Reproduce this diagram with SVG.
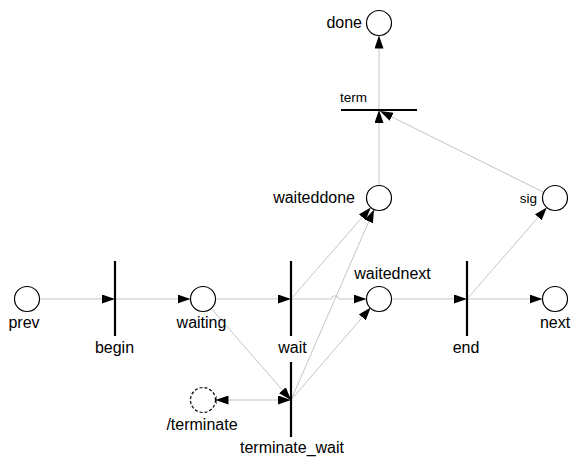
<svg xmlns="http://www.w3.org/2000/svg" width="576" height="464" viewBox="0 0 576 464">
<defs>
<marker id="ah" markerUnits="userSpaceOnUse" markerWidth="14" markerHeight="10" refX="13" refY="4.5" orient="auto">
<path d="M0,0 L13,4.5 L0,9 z" fill="#000"/>
</marker>
<marker id="ahs" markerUnits="userSpaceOnUse" markerWidth="14" markerHeight="10" refX="0" refY="4.5" orient="auto">
<path d="M13,0 L0,4.5 L13,9 z" fill="#000"/>
<path d="M0.5,0.5 V8.5" stroke="#000" stroke-width="1"/>
</marker>
<style>
.place{fill:#fff;stroke:#000;stroke-width:1.2}
.dashed{stroke-dasharray:3,2}
.bar{stroke:#000;stroke-width:2.2}
.arc{fill:none;stroke:#c4c4c4;stroke-width:1;marker-end:url(#ah)}
text{font-family:"Liberation Sans",Arial,sans-serif;font-size:16px;fill:#000}
.sm{font-size:13.5px}
.mid{text-anchor:middle}
.end{text-anchor:end}
</style>
</defs>
<g id="connectors">
<line class="arc" x1="39.5" y1="299" x2="115" y2="299"/>
<line class="arc" x1="115" y1="299" x2="190.5" y2="299"/>
<line class="arc" x1="215.5" y1="299" x2="291" y2="299"/>
<path class="arc" d="M291,299 H331 L333,296 H337 L339,299 H366.5"/>
<line class="arc" x1="291" y1="299" x2="370.8" y2="207.4"/>
<line class="arc" x1="291" y1="400" x2="374" y2="209.5"/>
<line class="arc" x1="291" y1="400" x2="370.8" y2="307.4"/>
<line class="arc" x1="211.2" y1="308.4" x2="291" y2="400"/>
<line class="arc" x1="215.5" y1="400" x2="291" y2="400" style="marker-start:url(#ahs)"/>
<line class="arc" x1="391.5" y1="299" x2="467" y2="299"/>
<line class="arc" x1="467" y1="299" x2="542.5" y2="299"/>
<line class="arc" x1="467" y1="299" x2="546.8" y2="207.4"/>
<line class="arc" x1="379" y1="185.5" x2="379" y2="110"/>
<line class="arc" x1="543.8" y1="192.4" x2="380" y2="111"/>
<line class="arc" x1="379" y1="110" x2="379" y2="35.5"/>
</g>
<g id="prev"><circle class="place" cx="27" cy="299" r="12.5"/><text class="mid" x="24" y="328">prev</text></g>
<g id="waiting"><circle class="place" cx="203" cy="299" r="12.5"/><text class="mid" x="201.5" y="328">waiting</text></g>
<g id="waitednext"><circle class="place" cx="379" cy="299" r="12.5"/><text class="mid" x="392.5" y="279">waitednext</text></g>
<g id="next"><circle class="place" cx="555" cy="299" r="12.5"/><text class="mid" x="555" y="328">next</text></g>
<g id="waiteddone"><circle class="place" cx="379" cy="198" r="12.5"/><text class="end" x="355" y="203">waiteddone</text></g>
<g id="sig"><circle class="place" cx="555" cy="198" r="12.5"/><text class="end sm" x="537" y="203">sig</text></g>
<g id="done"><circle class="place" cx="379" cy="23" r="12.5"/><text class="end" x="362" y="28">done</text></g>
<g id="terminate"><circle class="place dashed" cx="203" cy="400" r="12.5"/><text class="mid" x="202" y="430">/terminate</text></g>
<g id="begin"><line class="bar" x1="115" y1="261" x2="115" y2="336"/><text class="mid" x="114.5" y="353">begin</text></g>
<g id="wait"><line class="bar" x1="291" y1="261" x2="291" y2="336"/><text class="mid" x="292.5" y="353">wait</text></g>
<g id="terminate_wait"><line class="bar" x1="291" y1="362" x2="291" y2="437"/><text class="mid" x="292" y="453">terminate_wait</text></g>
<g id="end"><line class="bar" x1="467" y1="261" x2="467" y2="336"/><text class="mid" x="466" y="353">end</text></g>
<g id="term"><line class="bar" x1="341" y1="110" x2="417" y2="110"/><text class="sm" x="340" y="102">term</text></g>
</svg>
